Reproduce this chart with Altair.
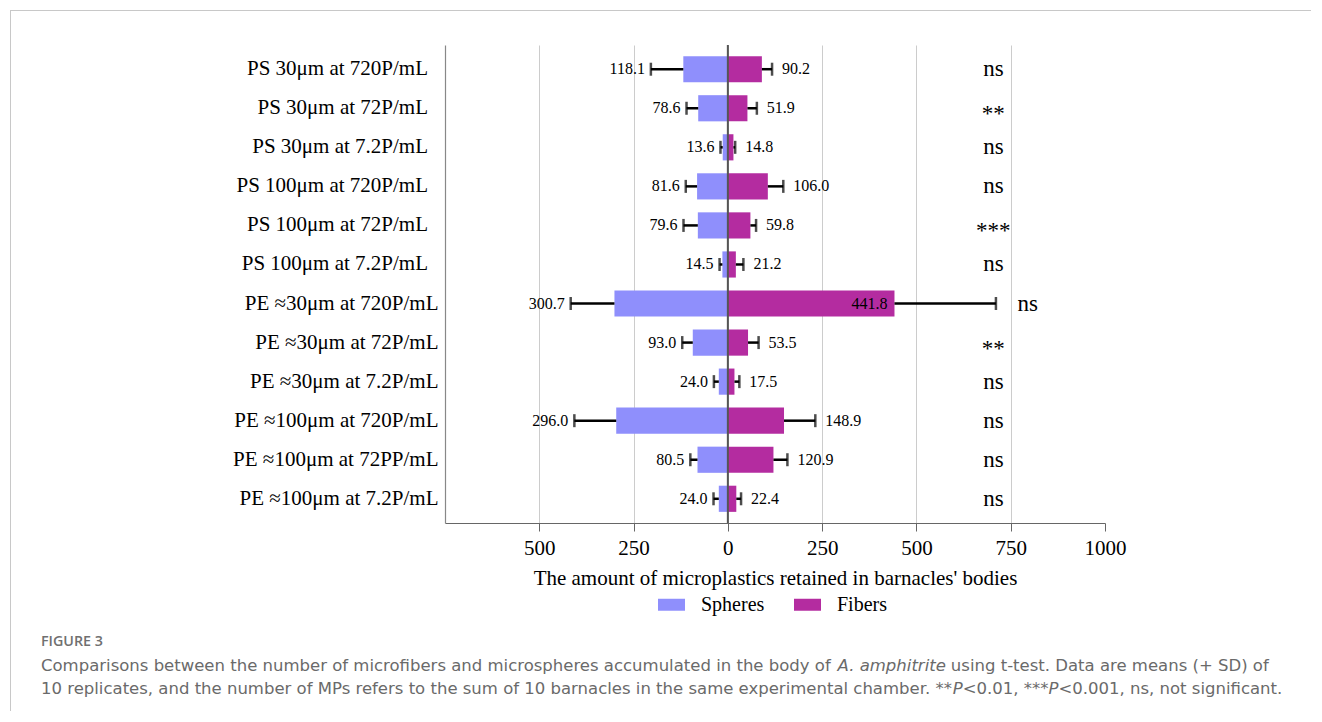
import altair as alt
import pandas as pd
import numpy as np
import struct, glob

categories = ["PS 30μm at 720P/mL", "PS 30μm at 72P/mL", "PS 30μm at 7.2P/mL",
              "PS 100μm at 720P/mL", "PS 100μm at 72P/mL", "PS 100μm at 7.2P/mL",
              "PE ≈30μm at 720P/mL", "PE ≈30μm at 72P/mL", "PE ≈30μm at 7.2P/mL",
              "PE ≈100μm at 720P/mL", "PE ≈100μm at 72PP/mL", "PE ≈100μm at 7.2P/mL"]
spheres_mean = [118.1, 78.6, 13.6, 81.6, 79.6, 14.5, 300.7, 93.0, 24.0, 296.0, 80.5, 24.0]
spheres_sd = [86, 31, 6, 30, 38, 7.5, 116, 28, 13, 111, 19, 14]
fibers_mean = [90.2, 51.9, 14.8, 106.0, 59.8, 21.2, 441.8, 53.5, 17.5, 148.9, 120.9, 22.4]
fibers_sd = [27, 25, 4.6, 41, 15, 20, 269, 28, 13, 83, 37, 12.6]
significance = ["ns", "**", "ns", "ns", "***", "ns", "ns", "**", "ns", "ns", "ns", "ns"]
x_ticks = [-500, -250, 0, 250, 500, 750, 1000]
types = ["Spheres", "Fibers"]
colors = ["#8f8ffc", "#b42ca0"]

caption_title = "FIGURE 3"
# (text, italic?)
caption_line1 = [("Comparisons between the number of microfibers and microspheres accumulated in the body of ", False),
                 ("A. amphitrite", True),
                 (" using t-test. Data are means (+ SD) of", False)]
caption_line2 = [("10 replicates, and the number of MPs refers to the sum of 10 barnacles in the same experimental chamber. **", False),
                 ("P", True), ("<0.01, ***", False), ("P", True), ("<0.001, ns, not significant.", False)]


# ---------- minimal TrueType advance-width reader (for caption text flow) ----------
def _parse_ttf(path):
    data = open(path, "rb").read()
    num = struct.unpack(">H", data[4:6])[0]
    tables = {}
    for i in range(num):
        tag, cs, off, ln = struct.unpack(">4sIII", data[12 + 16 * i: 28 + 16 * i])
        tables[tag.decode("latin1")] = off
    head = tables["head"]
    upem = struct.unpack(">H", data[head + 18: head + 20])[0]
    hhea = tables["hhea"]
    nhm = struct.unpack(">H", data[hhea + 34: hhea + 36])[0]
    hmtx = tables["hmtx"]
    adv = [struct.unpack(">H", data[hmtx + 4 * i: hmtx + 4 * i + 2])[0] for i in range(nhm)]
    cmap = tables["cmap"]
    n = struct.unpack(">H", data[cmap + 2: cmap + 4])[0]
    sub = None
    for i in range(n):
        pid, eid, off = struct.unpack(">HHI", data[cmap + 4 + 8 * i: cmap + 12 + 8 * i])
        fmt = struct.unpack(">H", data[cmap + off: cmap + off + 2])[0]
        if fmt == 4 and (pid == 0 or (pid == 3 and eid == 1)):
            sub = cmap + off
            break
    segX2 = struct.unpack(">H", data[sub + 6: sub + 8])[0]
    segc = segX2 // 2
    ends = struct.unpack(">%dH" % segc, data[sub + 14: sub + 14 + segX2])
    so = sub + 16 + segX2
    starts = struct.unpack(">%dH" % segc, data[so: so + segX2])
    do = so + segX2
    deltas = struct.unpack(">%dh" % segc, data[do: do + segX2])
    ro = do + segX2
    ros = struct.unpack(">%dH" % segc, data[ro: ro + segX2])

    def gid(c):
        for i in range(segc):
            if ends[i] >= c:
                if starts[i] > c:
                    return 0
                if ros[i] == 0:
                    return (c + deltas[i]) & 0xFFFF
                addr = ro + 2 * i + ros[i] + 2 * (c - starts[i])
                g = struct.unpack(">H", data[addr: addr + 2])[0]
                return (g + deltas[i]) & 0xFFFF if g else 0
        return 0

    def width(text, size):
        return sum(adv[min(gid(ord(ch)), nhm - 1)] for ch in text) * size / upem
    return width


def _font_measurer(filename):
    for pat in ["/usr/share/fonts/**/" + filename, "/usr/local/share/fonts/**/" + filename,
                "/usr/share/fonts/" + filename]:
        for p in glob.glob(pat, recursive=True):
            try:
                return _parse_ttf(p)
            except Exception:
                pass
    return lambda text, size: 0.58 * size * len(text)


measure_reg = _font_measurer("DejaVuSans.ttf")
measure_it = _font_measurer("DejaVuSans-Oblique.ttf")


def seg_width(t, it, size):
    return (measure_it if it else measure_reg)(t, size)


CAP_FONT = "DejaVu Sans"
w1 = sum(seg_width(t, it, 16) for t, it in caption_line1)
w2 = sum(seg_width(t, it, 16) for t, it in caption_line2)
CAP_SIZE = float(np.clip(min(16 * (1310 - 40) / w1, 16 * (1297 - 40) / w2) * 0.99, 13, 18))

# ---------- data ----------
rows = []
for i, c in enumerate(categories):
    m, s = spheres_mean[i], spheres_sd[i]
    rows.append(dict(cat=c, type="Spheres", mean=m, x=-m, xe=-(m + s), zero=0))
    m, s = fibers_mean[i], fibers_sd[i]
    rows.append(dict(cat=c, type="Fibers", mean=m, x=m, xe=m + s, zero=0))
df = pd.DataFrame(rows)

fib_end = np.array(fibers_mean) + np.array(fibers_sd)
sig_df = pd.DataFrame({"cat": categories, "sig": significance,
                       "sx": np.maximum(704, fib_end + 84)})

SERIF = "Liberation Serif"
xscale = alt.Scale(domain=[-750, 1000], nice=False, zero=False)
yscale = alt.Scale(domain=categories, paddingInner=0.33, paddingOuter=0.285)

X = alt.X("x:Q", scale=xscale, axis=alt.Axis(
    values=x_ticks, labelExpr="abs(datum.value)", labelFlush=False,
    title="The amount of microplastics retained in barnacles' bodies",
    titleFont=SERIF, titleFontSize=21, titleFontWeight="normal", titleColor="black", titlePadding=9,
    labelFont=SERIF, labelFontSize=21, labelColor="black", labelPadding=6,
    tickSize=8, tickColor="#666", domainColor="#666", domainWidth=1.2,
    grid=True, gridColor=alt.condition("datum.value == 1000", alt.value("transparent"), alt.value("#cccccc")),
    gridWidth=1))
# PS labels sit a little left of the PE ones in the original
label_expr = "indexof(datum.label, 'PS') == 0 ? datum.label + '\u00a0\u00a0\u200b' : datum.label"
Y = alt.Y("cat:N", scale=yscale, sort=categories, axis=alt.Axis(
    title=None, labelFont=SERIF, labelFontSize=21, labelColor="black", labelPadding=7,
    labelExpr=label_expr,
    ticks=False, domainColor="#888", domainWidth=1.2, grid=False, labelLimit=400))

base = alt.Chart(df)
bars = base.mark_bar(strokeWidth=0).encode(
    x=X, x2="zero:Q", y=Y,
    color=alt.Color("type:N", scale=alt.Scale(domain=types, range=colors), legend=alt.Legend(
        title=None, orient="none", legendX=213, legendY=546, direction="horizontal",
        symbolType="M-1,-0.444H1V0.444H-1Z", symbolSize=729, symbolStrokeWidth=0,
        labelFont=SERIF, labelFontSize=20, labelColor="black", labelOffset=16, columnPadding=29)))

zero_line = alt.Chart(pd.DataFrame({"z": [0]})).mark_rule(color="#555", strokeWidth=2).encode(
    x=alt.X("z:Q", scale=xscale))

Yc = alt.Y("cat:N", scale=yscale, sort=categories)
err = base.mark_rule(color="black", strokeWidth=2.5).encode(
    x=alt.X("x:Q", scale=xscale), x2="xe:Q", y=Yc)
caps = base.mark_tick(color="black", thickness=2.5, size=13, orient="vertical").encode(
    x=alt.X("xe:Q", scale=xscale), y=Yc)

lab_s = base.transform_filter("datum.type == 'Spheres'").mark_text(
    align="right", baseline="middle", dx=-6, font=SERIF, fontSize=16, color="black").encode(
    x=alt.X("xe:Q", scale=xscale), y=Yc, text=alt.Text("mean:Q", format=".1f"))
lab_f = base.transform_filter("datum.type == 'Fibers' && datum.xe < 600").mark_text(
    align="left", baseline="middle", dx=10, font=SERIF, fontSize=16, color="black").encode(
    x=alt.X("xe:Q", scale=xscale), y=Yc, text=alt.Text("mean:Q", format=".1f"))
lab_in = base.transform_filter("datum.type == 'Fibers' && datum.xe >= 600").mark_text(
    align="right", baseline="middle", dx=-7, font=SERIF, fontSize=16, color="black").encode(
    x=alt.X("x:Q", scale=xscale), y=Yc, text=alt.Text("mean:Q", format=".1f"))

sig_base = alt.Chart(sig_df)
sig_ns = sig_base.transform_filter("indexof(datum.sig, '*') < 0").mark_text(
    align="center", baseline="middle", font=SERIF, fontSize=23, color="black").encode(
    x=alt.X("sx:Q", scale=xscale), y=Yc, text="sig:N")
sig_st = sig_base.transform_filter("indexof(datum.sig, '*') >= 0").mark_text(
    align="center", baseline="middle", dy=6, font=SERIF, fontSize=23, color="black").encode(
    x=alt.X("sx:Q", scale=xscale), y=Yc, text="sig:N")

one = pd.DataFrame({"a": [0]})
frame_top = alt.Chart(one).mark_rule(color="#c8c8c8", strokeWidth=1).encode(
    x=alt.value(-435), x2=alt.value(866), y=alt.value(-34.5))
frame_left = alt.Chart(one).mark_rule(color="#c8c8c8", strokeWidth=1).encode(
    x=alt.value(-434.5), y=alt.value(-35), y2=alt.value(666))

OX, OY = 444, 44


def cap_text(t, x, y, size, style="normal", weight="normal", color="#6a6a6a", font=CAP_FONT):
    return alt.Chart(pd.DataFrame({"t": [t]})).mark_text(
        align="left", baseline="middle", font=font, fontSize=size, fontStyle=style,
        fontWeight=weight, color=color).encode(x=alt.value(x), y=alt.value(y), text="t:N")


def cap_line(segments, y_page, nudge):
    layers = []
    x = 40.0
    for (t, it), nd in zip(segments, nudge):
        lead = seg_width(t[: len(t) - len(t.lstrip(" "))], it, CAP_SIZE)
        layers.append(cap_text(t.strip(" "), x + lead - OX, y_page - OY, CAP_SIZE,
                               style="italic" if it else "normal"))
        x += seg_width(t, it, CAP_SIZE) + nd
    return layers


caps_layers = [cap_text(caption_title, 40 - OX, 641 - OY, 14.3, weight=600, color="#707070", font="Open Sans")]
caps_layers += cap_line(caption_line1, 665, [0, 0, 0])
caps_layers += cap_line(caption_line2, 688, [-3, 0, 0, 0, 0])

chart = alt.layer(bars, zero_line, err, caps, lab_s, lab_f, lab_in, sig_ns, sig_st,
                  frame_top, frame_left, *caps_layers).properties(
    width=660, height=478,
    padding={"left": 1, "top": 1, "right": 0, "bottom": 0}
).configure_view(stroke=None)

chart.save("out.html", embed_options={"renderer": "svg", "actions": False})
